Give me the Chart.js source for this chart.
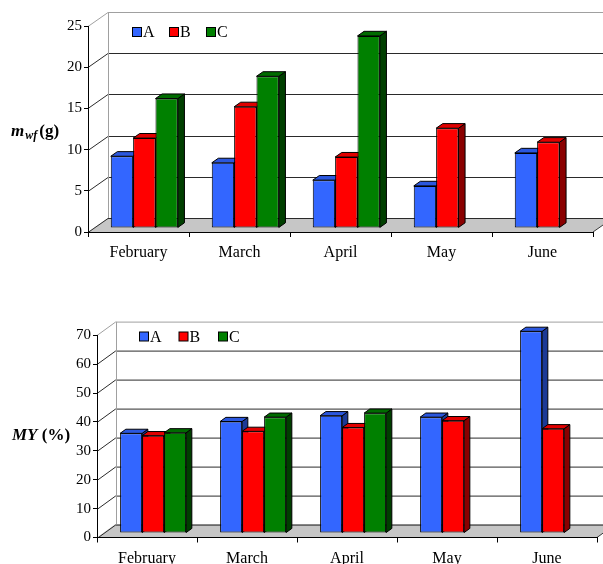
<!DOCTYPE html>
<html>
<head>
<meta charset="utf-8">
<script src="https://cdn.jsdelivr.net/npm/chart.js@4.4.1/dist/chart.umd.min.js"></script>
<style>
  html, body { margin: 0; padding: 0; background: #fff; }
  #wrap { position: relative; width: 603px; height: 564px; overflow: hidden; }
  canvas { position: absolute; left: 0; }
</style>
</head>
<body>
<div id="wrap">
  <canvas id="massChart" width="603" height="282" style="top:0"></canvas>
  <canvas id="yieldChart" width="603" height="282" style="top:282px"></canvas>
</div>
<script>
// Months on the category axis and the three series
const months = ['February', 'March', 'April', 'May', 'June'];
const seriesNames = ['A', 'B', 'C'];

// m_wf (g)
const massA = [8.7, 7.9, 5.8, 5.1, 9.1];
const massB = [10.9, 14.7, 8.6, 12.1, 10.4];
const massC = [15.7, 18.4, 23.3, null, null];

// MY (%)
const yieldA = [34.5, 38.6, 40.6, 40.1, 69.8];
const yieldB = [33.7, 35.2, 36.5, 38.9, 36.1];
const yieldC = [34.7, 40.1, 41.5, null, null];

// value-axis ranges
const massAxisMax = 25, massAxisStep = 5;
const yieldAxisMax = 70, yieldAxisStep = 10;

// face shading per series: front, top, right side
const faceColors = [
  { front: '#3366ff', top: '#2b57de', side: '#1c3a96' },
  { front: '#ff0000', top: '#e00000', side: '#8a0000' },
  { front: '#008000', top: '#006b00', side: '#003f00' }
];

const SERIF = '"Liberation Serif", "Times New Roman", serif';

function line(ctx, pts) {
  ctx.beginPath();
  ctx.moveTo(pts[0][0], pts[0][1]);
  for (let i = 1; i < pts.length; i++) ctx.lineTo(pts[i][0], pts[i][1]);
}

// Pseudo-3D frame: floor, walls and gridlines behind the bars, bar depth faces,
// the in-plot legend and a horizontal value-axis title.
function makeBox3d(o) {
  return {
    id: 'box3d',
    beforeDraw(chart) {
      const { ctx, chartArea: { left: L, right: R, top: T, bottom: B }, scales: { y } } = chart;
      const dx = o.dx, dy = o.dy;
      ctx.save();
      // floor
      ctx.fillStyle = '#c6c6c6';
      line(ctx, [[L, B], [R, B], [R + dx, B + dy], [L + dx, B + dy]]);
      ctx.closePath();
      ctx.fill();
      ctx.lineWidth = 1;
      ctx.strokeStyle = '#3a3a3a';
      line(ctx, [[R, B], [R + dx, B + dy]]);
      ctx.stroke();
      // gridlines on the left and back walls
      y.ticks.forEach(t => {
        const py = Math.round(y.getPixelForValue(t.value)) + 0.5;
        ctx.strokeStyle = t.value === y.max ? '#a0a0a0' : '#2a2a2a';
        line(ctx, [[L, py], [L + dx, py + dy], [R + dx + 20, py + dy]]);
        ctx.stroke();
      });
      // back wall left edge
      ctx.strokeStyle = '#a0a0a0';
      const bx = Math.round(L + dx) + 0.5;
      line(ctx, [[bx, T + dy], [bx, B + dy]]);
      ctx.stroke();
      ctx.restore();
    },
    beforeDatasetsDraw(chart) {
      const ctx = chart.ctx;
      ctx.save();
      ctx.translate(o.front * o.dx, o.front * o.dy);
      const bx = (o.back - o.front) * o.dx, by = (o.back - o.front) * o.dy;
      const bars = [];
      chart.data.datasets.forEach((ds, d) => {
        const meta = chart.getDatasetMeta(d);
        meta.data.forEach((el, i) => {
          if (ds.data[i] == null) return;
          const p = el.getProps(['x', 'y', 'base', 'width'], true);
          bars.push({ d, l: p.x - p.width / 2, r: p.x + p.width / 2, t: p.y, b: p.base });
        });
      });
      ctx.lineWidth = 1;
      ctx.strokeStyle = '#000';
      // right side faces first, then top faces; front faces are the bars themselves
      bars.forEach(k => {
        ctx.fillStyle = faceColors[k.d].side;
        line(ctx, [[k.r, k.t], [k.r + bx, k.t + by], [k.r + bx, k.b + by], [k.r, k.b]]);
        ctx.closePath(); ctx.fill(); ctx.stroke();
      });
      bars.forEach(k => {
        ctx.fillStyle = faceColors[k.d].top;
        line(ctx, [[k.l, k.t], [k.l + bx, k.t + by], [k.r + bx, k.t + by], [k.r, k.t]]);
        ctx.closePath(); ctx.fill(); ctx.stroke();
      });
    },
    afterDatasetsDraw(chart) {
      chart.ctx.restore();
    },
    afterDraw(chart) {
      const ctx = chart.ctx;
      ctx.save();
      // legend inside the plot
      ctx.textBaseline = 'middle';
      ctx.font = '16px ' + SERIF;
      chart.data.datasets.forEach((ds, i) => {
        const x = o.legendX + i * o.legendGap, yc = o.legendY;
        ctx.fillStyle = faceColors[i].front;
        ctx.fillRect(x + 0.5, yc - 4.5, 9, 9);
        ctx.strokeStyle = '#000';
        ctx.lineWidth = 1;
        ctx.strokeRect(x + 0.5, yc - 4.5, 9, 9);
        ctx.fillStyle = '#000';
        ctx.fillText(ds.label, x + 11, yc + 1);
      });
      // horizontal value-axis title
      ctx.textBaseline = 'alphabetic';
      ctx.fillStyle = '#000';
      let x = o.titleX;
      o.title.forEach(part => {
        ctx.font = part.font;
        ctx.fillText(part.text, x, o.titleY + (part.shift || 0));
        x += ctx.measureText(part.text).width + (part.gap || 0);
      });
      ctx.restore();
    }
  };
}

function makeChart(id, values, axisMax, axisStep, geo) {
  return new Chart(document.getElementById(id), {
    type: 'bar',
    data: {
      labels: months,
      datasets: values.map((v, i) => ({
        label: seriesNames[i],
        data: v,
        backgroundColor: faceColors[i].front,
        borderColor: '#000',
        borderWidth: 1,
        borderSkipped: false,
        categoryPercentage: geo.catPct,
        barPercentage: 1
      }))
    },
    options: {
      responsive: false,
      animation: false,
      events: [],
      layout: { padding: geo.padding },
      plugins: {
        legend: { display: false },
        tooltip: { enabled: false }
      },
      scales: {
        x: {
          afterFit(s) { s.height = geo.xAxisHeight; },
          grid: { offset: true, drawOnChartArea: false, drawTicks: true, tickLength: 5, color: '#000' },
          border: { display: true, color: '#000', width: 1 },
          ticks: { font: { family: SERIF, size: 16 }, color: '#000', padding: geo.xPad, maxRotation: 0, autoSkip: false }
        },
        y: {
          min: 0,
          max: axisMax,
          afterFit(s) { s.width = geo.yAxisWidth; },
          grid: { drawOnChartArea: false, drawTicks: true, tickLength: 4, color: '#000' },
          border: { display: true, color: '#000', width: 1 },
          ticks: { stepSize: axisStep, font: { family: SERIF, size: 15 }, color: '#000', padding: 2 }
        }
      }
    },
    plugins: [makeBox3d(geo.box)]
  });
}

makeChart('massChart', [massA, massB, massC], massAxisMax, massAxisStep, {
  padding: { left: 0, right: 10, top: 26, bottom: 0 },
  yAxisWidth: 88,
  xAxisHeight: 50,
  xPad: 6,
  catPct: 0.664,
  box: {
    dx: 20, dy: -14, front: 0.29, back: 0.62,
    legendX: 132, legendY: 32, legendGap: 37,
    titleX: 11, titleY: 136,
    title: [
      { text: 'm', font: 'italic bold 17px ' + SERIF, gap: 1 },
      { text: 'wf', font: 'italic bold 12px ' + SERIF, shift: 3, gap: 2 },
      { text: '(g)', font: 'bold 17px ' + SERIF }
    ]
  }
});

makeChart('yieldChart', [yieldA, yieldB, yieldC], yieldAxisMax, yieldAxisStep, {
  padding: { left: 0, right: 6, top: 53.2, bottom: 0 },
  yAxisWidth: 97,
  xAxisHeight: 26.5,
  xPad: 7,
  catPct: 0.66,
  box: {
    dx: 18.5, dy: -13.4, front: 0.33, back: 0.64,
    legendX: 139, legendY: 54.5, legendGap: 39.5,
    titleX: 12, titleY: 158,
    title: [
      { text: 'MY', font: 'italic bold 17px ' + SERIF, gap: 0 },
      { text: ' (%)', font: 'bold 17px ' + SERIF }
    ]
  }
});
</script>
</body>
</html>
